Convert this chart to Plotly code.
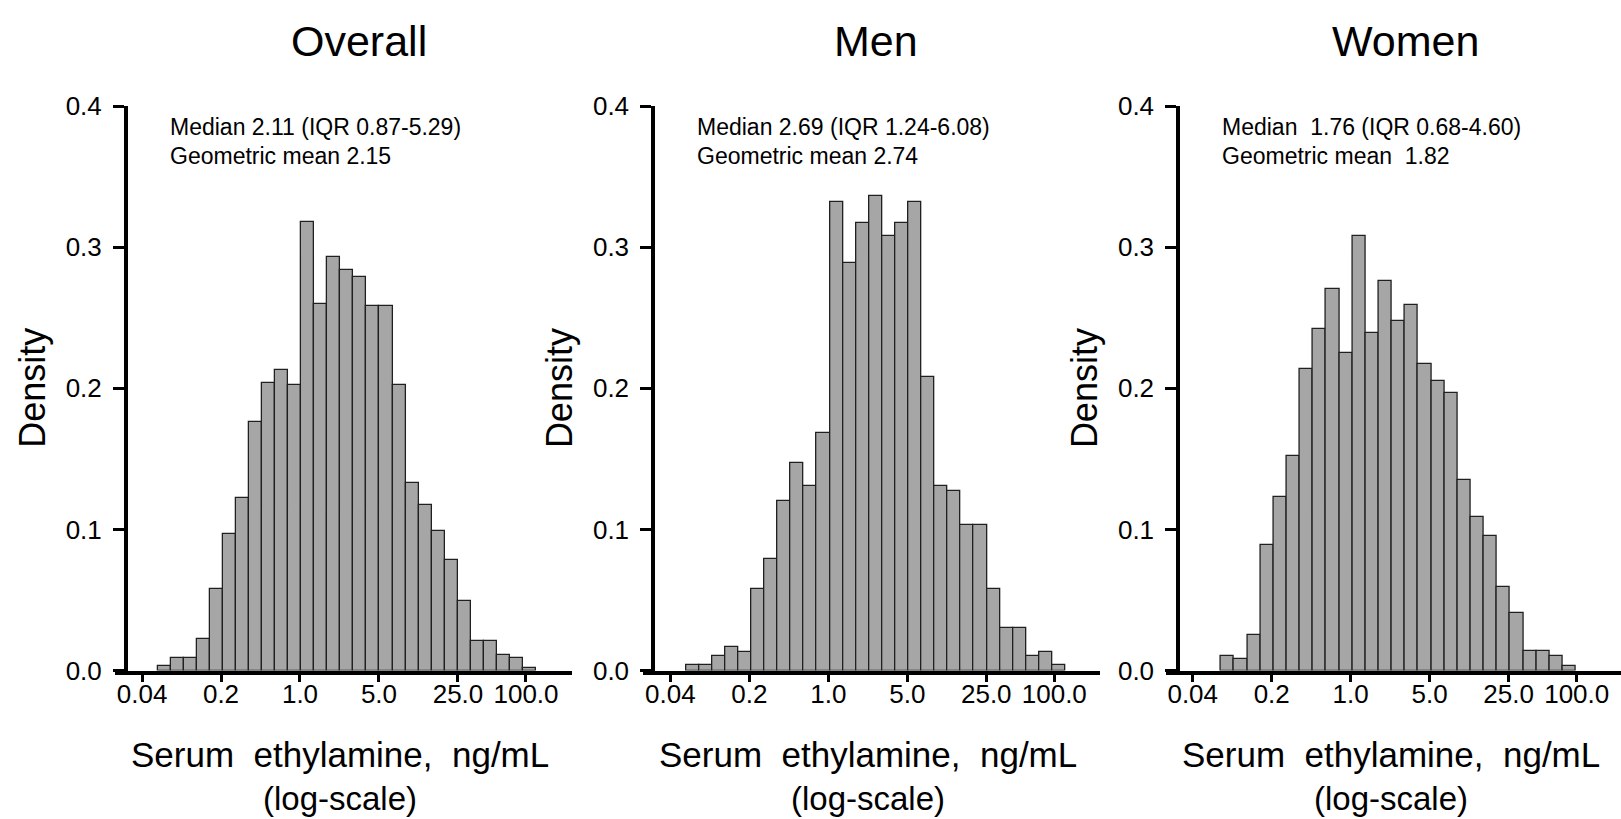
import numpy as np
import plotly.graph_objects as go

# ---------------- data ----------------
tick_values = [0.04, 0.2, 1.0, 5.0, 25.0, 100.0]
tick_labels = ["0.04", "0.2", "1.0", "5.0", "25.0", "100.0"]
y_tick_values = [0.0, 0.1, 0.2, 0.3, 0.4]
y_tick_labels = ["0.0", "0.1", "0.2", "0.3", "0.4"]

panel_titles = ["Overall", "Men", "Women"]
median_lines = ["Median 2.11 (IQR 0.87-5.29)",
                "Median 2.69 (IQR 1.24-6.08)",
                "Median  1.76 (IQR 0.68-4.60)"]
gmean_lines = ["Geometric mean 2.15",
               "Geometric mean 2.74",
               "Geometric mean  1.82"]

# histogram bins: first edge and width in log10(ng/mL)
overall_bin_start = -1.26
overall_bin_width = 0.1155
overall_density = [0.003, 0.009, 0.009, 0.022, 0.058, 0.097, 0.122, 0.176, 0.204,
                   0.213, 0.202, 0.318, 0.260, 0.293, 0.284, 0.279, 0.258, 0.258,
                   0.202, 0.133, 0.117, 0.099, 0.078, 0.049, 0.021, 0.021, 0.011,
                   0.009, 0.002]

men_bin_start = -1.26
men_bin_width = 0.1158
men_density = [0.004, 0.004, 0.010, 0.017, 0.013, 0.058, 0.079, 0.120, 0.147,
               0.131, 0.168, 0.332, 0.289, 0.317, 0.336, 0.308, 0.317, 0.332,
               0.208, 0.131, 0.127, 0.103, 0.103, 0.058, 0.030, 0.030, 0.010,
               0.013, 0.004]

women_bin_start = -1.148
women_bin_width = 0.1163
women_density = [0.010, 0.008, 0.025, 0.089, 0.123, 0.152, 0.214, 0.242, 0.270,
                 0.225, 0.308, 0.239, 0.276, 0.248, 0.259, 0.217, 0.205, 0.197,
                 0.135, 0.109, 0.095, 0.059, 0.041, 0.014, 0.014, 0.010, 0.003]

# ---------------- layout geometry (pixels) ----------------
W, H = 1621, 819
FONT = "Liberation Sans, Arial, Helvetica, sans-serif"
one_px = [300.0, 828.3, 1350.7]      # pixel of the 1.0 tick
yaxis_px = [126.0, 653.3, 1178.3]    # pixel of y-axis line
title_px = [359.0, 876.0, 1405.0]
px_per_dec = 113.0
x_lo, x_hi = -1.637, 2.407           # log10 range of each x-axis
y_top_px, y_bot_px = 94.5, 680.5

def px_x(p):
    return p / W

def px_y(p):
    return 1 - p / H

fig = go.Figure()

panels = [(overall_bin_start, overall_bin_width, overall_density),
          (men_bin_start, men_bin_width, men_density),
          (women_bin_start, women_bin_width, women_density)]

annotations = []
for i, (b0, bw, dens) in enumerate(panels):
    n = len(dens)
    centers = b0 + bw * (np.arange(n) + 0.5)
    sx = "" if i == 0 else str(i + 1)
    fig.add_trace(go.Bar(
        x=centers, y=dens, width=bw,
        marker=dict(color="#a6a6a6", line=dict(color="#202020", width=1.3)),
        xaxis="x" + sx, yaxis="y" + sx, showlegend=False, hoverinfo="skip"))

    left_px = one_px[i] + x_lo * px_per_dec
    right_px = one_px[i] + x_hi * px_per_dec
    rng_hi = x_hi
    if right_px > W:
        rng_hi = x_lo + (W - left_px) / px_per_dec
        right_px = W
    fig.layout["xaxis" + sx] = dict(
        domain=[px_x(left_px), px_x(right_px)], range=[x_lo, rng_hi],
        anchor="y" + sx,
        tickvals=[np.log10(v) for v in tick_values], ticktext=tick_labels,
        ticks="outside", ticklen=7, tickwidth=3, tickcolor="black",
        showline=True, linewidth=4, linecolor="black",
        showgrid=False, zeroline=False, ticklabelstandoff=-10,
        tickfont=dict(family=FONT, size=26, color="black"), fixedrange=True)
    fig.layout["yaxis" + sx] = dict(
        domain=[px_y(y_bot_px), px_y(y_top_px)], range=[0, 0.4],
        anchor="free", position=px_x(yaxis_px[i]),
        tickvals=y_tick_values, ticktext=y_tick_labels,
        ticks="outside", ticklen=11, tickwidth=3, tickcolor="black",
        showline=True, linewidth=4, linecolor="black",
        showgrid=False, zeroline=False, ticklabelstandoff=6,
        tickfont=dict(family=FONT, size=26, color="black"), fixedrange=True)

    cx = one_px[i] + 40
    annotations += [
        dict(text=panel_titles[i], x=px_x(title_px[i]), y=px_y(27),
             font=dict(family=FONT, size=43, color="black")),
        dict(text=median_lines[i], x=px_x(yaxis_px[i] + 42), y=px_y(116),
             xanchor="left", font=dict(family=FONT, size=23, color="black")),
        dict(text=gmean_lines[i], x=px_x(yaxis_px[i] + 42), y=px_y(146),
             xanchor="left", font=dict(family=FONT, size=23, color="black")),
        dict(text="Density", x=px_x(yaxis_px[i] - 93), y=px_y(387),
             textangle=-90, font=dict(family=FONT, size=36, color="black")),
        dict(text="Serum  ethylamine,  ng/mL", x=px_x(cx), y=px_y(768),
             font=dict(family=FONT, size=35, color="black")),
        dict(text="(log-scale)", x=px_x(cx), y=px_y(813),
             font=dict(family=FONT, size=33, color="black")),
    ]

for a in annotations:
    a.update(xref="paper", yref="paper", showarrow=False)
    a.setdefault("xanchor", "center")
    a.setdefault("yanchor", "middle")

fig.update_layout(
    width=W, height=H, margin=dict(l=0, r=0, t=0, b=0),
    paper_bgcolor="white", plot_bgcolor="white",
    bargap=0, annotations=annotations, showlegend=False)

fig.write_html("out.html", config={"displayModeBar": False},
               post_script="document.body.style.margin='0';document.body.style.overflow='hidden';")
